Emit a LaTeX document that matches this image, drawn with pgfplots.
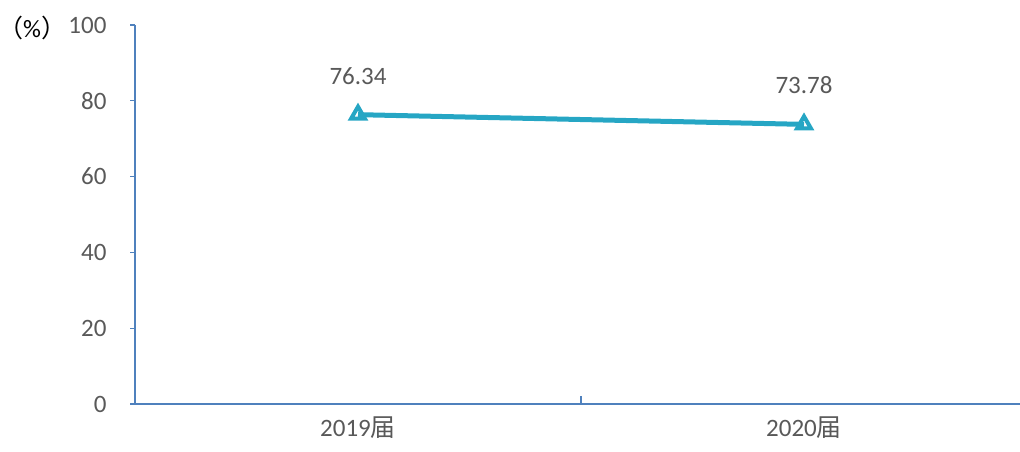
\documentclass[border=0pt]{standalone}
\usepackage{pgfplots}
\pgfplotsset{compat=1.18}
\usepackage{fontspec}
\setmainfont{Carlito}
\newfontfamily\cjk{Noto Sans CJK SC}
\definecolor{axisblue}{RGB}{79,129,189}
\definecolor{linec}{RGB}{38,166,196}
\definecolor{txt}{RGB}{89,89,89}
\begin{document}
\begin{tikzpicture}
\useasboundingbox (0,0) rectangle (1020bp,452bp);
\begin{axis}[
  at={(135bp,48bp)}, anchor=south west,
  scale only axis, width=892bp, height=379bp,
  xmin=-0.5, xmax=1.5, ymin=0, ymax=100,
  axis lines*=left,
  axis line style={axisblue, line width=1.4bp},
  every tick/.style={axisblue, line width=1.2bp},
  xtick={0,1}, xticklabels={2019{\cjk 届},2020{\cjk 届}},
  major x tick style={draw=none},
  minor xtick={-0.5,0.5,1.5},
  minor tick length=8bp,
  xtick align=inside,
  ytick={0,20,40,60,80,100},
  ytick align=outside,
  major tick length=5bp,
  tick label style={font=\fontsize{25bp}{28bp}\selectfont, text=txt},
  /pgf/number format/assume math mode=true,
  x tick label style={anchor=center, yshift=-24bp},
  y tick label style={anchor=east, xshift=-20bp},
  clip=false,
]
\addplot[linec, line width=5bp, mark=triangle, mark size=8bp,
  mark options={fill=white, line width=4bp, solid},
  nodes near coords, point meta=explicit symbolic,
  every node near coord/.style={font=\fontsize{25bp}{28bp}\selectfont, text=txt, anchor=center, yshift=39bp}]
  coordinates {(0,76.34)[76.34] (1,73.78)[73.78]};
\end{axis}
\node[font=\fontsize{25bp}{28bp}\selectfont, text=black, inner sep=0pt, anchor=west] at (-2bp,424bp) {{\cjk （}\%{\cjk ）}};
\end{tikzpicture}
\end{document}
